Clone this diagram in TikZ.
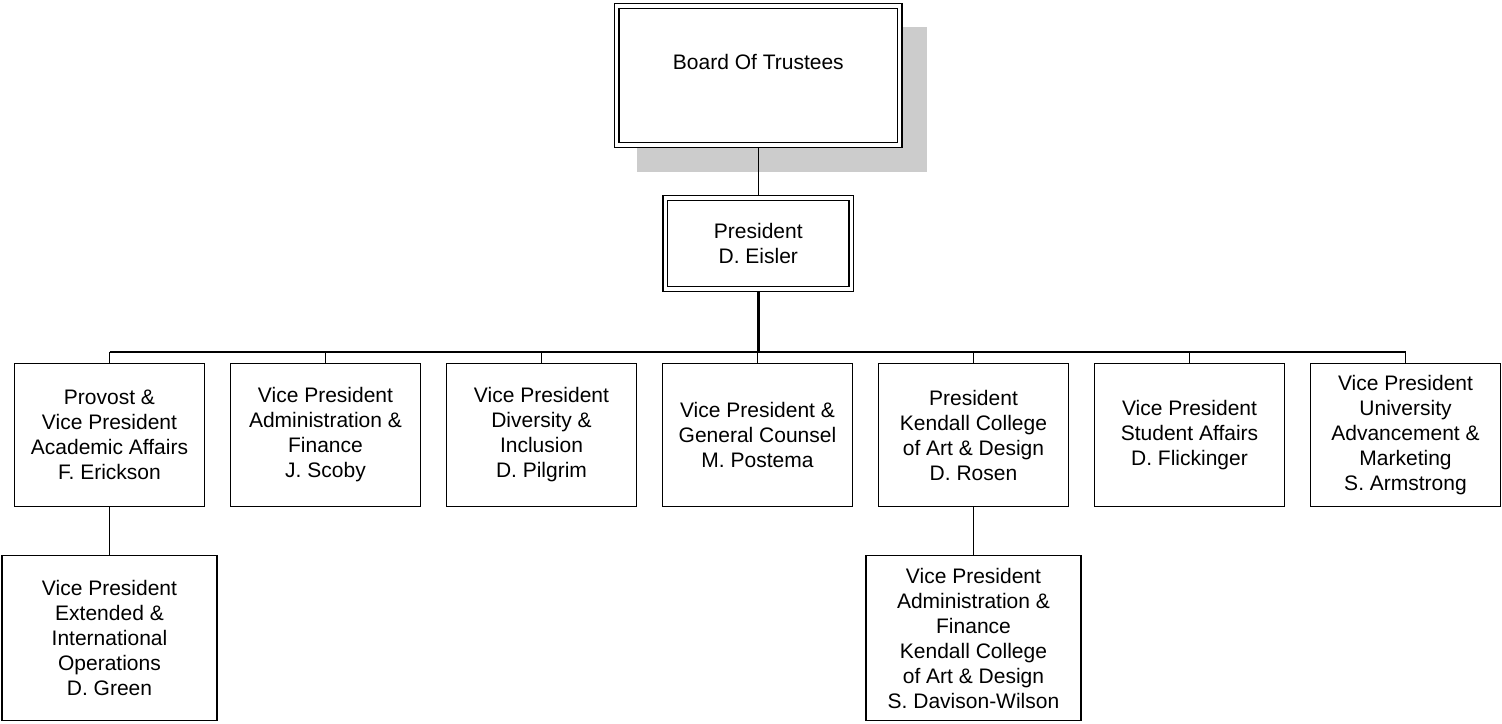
\documentclass[tikz,border=0pt]{standalone}
\usepackage{fontspec}
\setmainfont{Liberation Sans}
\usetikzlibrary{backgrounds}
\begin{document}
\begin{tikzpicture}[x=1pt, y=1pt,
	officebox/.style={draw, line width=1.3pt, fill=white, align=center, minimum width=190pt, minimum height=143pt, inner sep=2pt, font=\fontsize{21}{25}\selectfont},
	lowbox/.style={officebox, minimum width=215pt, minimum height=165pt},
	headbox/.style={draw, fill=white, line width=1.5pt, double, double distance=3.2pt, align=center, font=\fontsize{21}{25}\selectfont},
	link/.style={line width=1.3pt}]
	\useasboundingbox (0,0) rectangle (1502,-723);
	
	%top of the chart
	\node[headbox, minimum width=283pt, minimum height=139pt, text height=14pt, text depth=26pt] (board) at (758.3,-75.5) {Board Of Trustees};
	\node[headbox, minimum width=186pt, minimum height=91pt] (pres) at (758.3,-243.5) {President\\D. Eisler};
	
	%vice presidents
	\foreach \name/\txt [count=\i from 0] in {
		prov/{Provost \&\\Vice President\\Academic Affairs\\F. Erickson},
		admin/{Vice President\\Administration \&\\Finance\\J. Scoby},
		divers/{Vice President\\Diversity \&\\Inclusion\\D. Pilgrim},
		counsel/{Vice President \&\\General Counsel\\M. Postema},
		kendall/{President\\Kendall College\\of Art \& Design\\D. Rosen},
		student/{Vice President\\Student Affairs\\D. Flickinger},
		advance/{Vice President\\University\\Advancement \&\\Marketing\\S. Armstrong}}{
		\node[officebox] (\name) at (109.5+216*\i, -435) {\txt};
	}
	
	%second level
	\node[lowbox] (extended) at (prov |- 0,-638) {Vice President\\Extended \&\\International\\Operations\\D. Green};
	\node[lowbox] (kcadmin) at (kendall |- 0,-638) {Vice President\\Administration \&\\Finance\\Kendall College\\of Art \& Design\\S. Davison-Wilson};
	
	\coordinate (bus) at (758.3,-352);
	
	\begin{scope}[on background layer]
		%shadow
		\fill[gray!40] (637,-27) rectangle (927,-172);
		\draw[link] (board) -- (pres);
		\draw[line width=2.6pt] (pres.south) -- (bus);
		\draw[line width=2pt] (prov.north |- bus) -- (advance.north |- bus);
		\foreach \name in {prov, admin, divers, counsel, kendall, student, advance}{
			\draw[link] (\name.north |- bus) -- (\name.north);
		}
		\draw[link] (prov) -- (extended);
		\draw[link] (kendall) -- (kcadmin);
	\end{scope}
\end{tikzpicture}
\end{document}
